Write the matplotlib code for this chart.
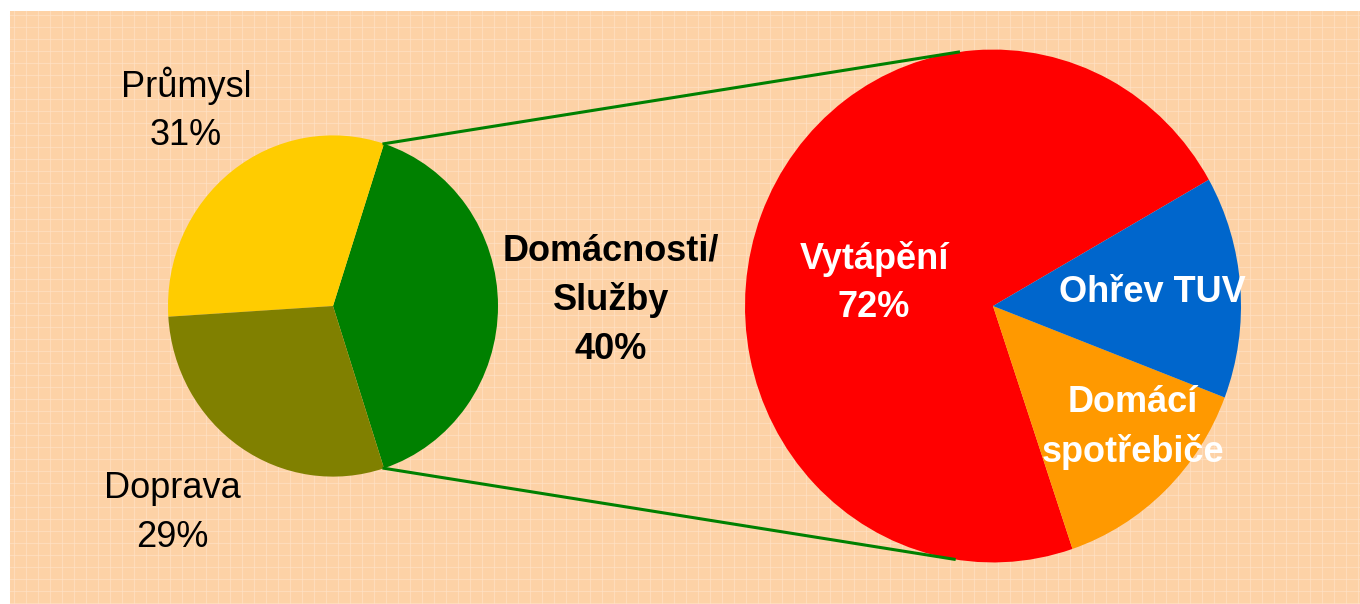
import numpy as np
import matplotlib
matplotlib.use('Agg')
import matplotlib.pyplot as plt
from matplotlib.patches import Rectangle

plt.rcParams['font.family'] = ['Liberation Sans', 'DejaVu Sans']

# ----------- data --------------
main_labels = ['Domácnosti/\nSlužby', 'Průmysl', 'Doprava']
main_values = [40, 31, 29]
main_colors = ['#008000', '#FFCC00', '#808000']

sub_labels = ['Vytápění', 'Domácí\nspotřebiče', 'Ohřev TUV']
sub_values = [72, 14, 14]
sub_colors = ['#FF0000', '#FF9900', '#0066CC']

# ----------- layout (pixels) --------------
W, H = 1360, 604
sy = 1.034  # pies are slightly taller than wide in the original
c1 = (333, 306 / sy)
r1 = 165
c2 = (993, 306 / sy)
r2 = 248
start1 = -72    # visual start angle, counter clockwise
start2 = 29.5

fig = plt.figure(figsize=(W / 100, H / 100), dpi=100, facecolor='white')
ax = fig.add_axes([0, 0, 1, 1])

# peach background with a faint plaid
bg = Rectangle((10, 11 / sy), W - 10, (H - 11) / sy, facecolor='#FDD2A6',
               edgecolor='none', zorder=0)
ax.add_patch(bg)
for x in np.arange(14, W, 12):
    ax.plot([x, x], [11 / sy, H / sy], color='#FFE4C8', lw=0.8, alpha=0.6, zorder=0.5)
for y in np.arange(15, H, 12):
    ax.plot([10, W], [y / sy, y / sy], color='#FFE4C8', lw=0.8, alpha=0.6, zorder=0.5)

# y axis is inverted, so go clockwise in data to get counter clockwise on screen
ax.pie(main_values, colors=main_colors, startangle=-start1, counterclock=False,
       center=c1, radius=r1, frame=True, wedgeprops=dict(linewidth=0))
ax.pie(sub_values, colors=sub_colors, startangle=-start2, counterclock=False,
       center=c2, radius=r2, frame=True, wedgeprops=dict(linewidth=0))
ax.set_aspect('auto')
ax.set_xlim(0, W)
ax.set_ylim(H / sy, 0)
ax.axis('off')

# connector lines from the Domácnosti wedge to the second pie
a_top = np.deg2rad(start1 + 360 * main_values[0] / 100)
a_bot = np.deg2rad(start1)
p1 = (c1[0] + r1 * np.cos(a_top), c1[1] - r1 * np.sin(a_top))
p2 = (c1[0] + r1 * np.cos(a_bot), c1[1] - r1 * np.sin(a_bot))
q1 = (c2[0] + r2 * np.cos(np.deg2rad(98)), c2[1] - r2 * np.sin(np.deg2rad(98)))
q2 = (c2[0] + r2 * np.cos(np.deg2rad(-99)), c2[1] - r2 * np.sin(np.deg2rad(-99)))
ax.plot([p1[0], q1[0]], [p1[1], q1[1]], color='#008000', lw=2.2, zorder=3)
ax.plot([p2[0], q2[0]], [p2[1], q2[1]], color='#008000', lw=2.2, zorder=3)

fs = 26
ls = 1.5
ax.text(186, 110 / sy, '%s\n%d%%' % (main_labels[1], main_values[1]), ha='center', va='center',
        fontsize=fs, linespacing=ls, color='black')
ax.text(172, 513 / sy, '%s\n%d%%' % (main_labels[2], main_values[2]), ha='center', va='center',
        fontsize=fs, linespacing=ls, color='black')
ax.text(611, 300 / sy, '%s\n%d%%' % (main_labels[0], main_values[0]), ha='center', va='center',
        fontsize=fs, linespacing=ls, color='black', fontweight='bold')

ax.text(874, 283 / sy, '%s\n%d%%' % (sub_labels[0], sub_values[0]), ha='center', va='center',
        fontsize=fs, linespacing=ls, color='white', fontweight='bold')
ax.text(1133, 428 / sy, sub_labels[1], ha='center', va='center',
        fontsize=fs, linespacing=ls, color='white', fontweight='bold')
ax.text(1152, 293 / sy, sub_labels[2], ha='center', va='center',
        fontsize=fs, color='white', fontweight='bold')

fig.savefig('out.png', dpi=100, facecolor='white')
